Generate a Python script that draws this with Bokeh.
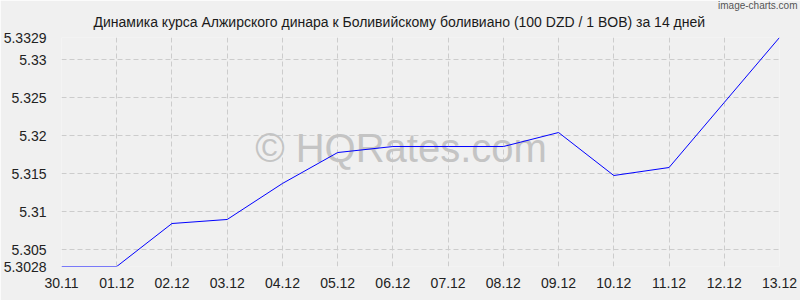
from bokeh.plotting import figure
from bokeh.models import Range1d, FixedTicker, Label, Title
from bokeh.embed import file_html
from bokeh.resources import INLINE

dates = ["30.11", "01.12", "02.12", "03.12", "04.12", "05.12", "06.12",
         "07.12", "08.12", "09.12", "10.12", "11.12", "12.12", "13.12"]
rates = [5.3028, 5.3028, 5.30845, 5.30898, 5.31371, 5.31778, 5.31857,
         5.31857, 5.31857, 5.32041, 5.31476, 5.31581, 5.32436, 5.3329]
y_ticks = [5.3028, 5.305, 5.31, 5.315, 5.32, 5.325, 5.33, 5.3329]
y_tick_labels = ["5.3028", "5.305", "5.31", "5.315", "5.32", "5.325", "5.33", "5.3329"]
title_text = "Динамика курса Алжирского динара к Боливийскому боливиано (100 DZD / 1 BOB) за 14 дней"

FONT = "Liberation Sans"
BG = "#f0f0f0"

xs = list(range(len(dates)))
ymin, ymax = min(rates), max(rates)

p = figure(width=800, height=300, output_backend="svg", toolbar_location=None,
           x_range=Range1d(0, len(dates) - 1), y_range=Range1d(ymin, ymax),
           min_border_left=60, min_border_right=21, min_border_top=37, min_border_bottom=34,
           background_fill_color=BG, border_fill_color=BG, outline_line_color=None)

# watermark first, so the line is drawn over it
step_y = (ymax - ymin) / 229.0
step_x = 1 / 55.31
p.add_layout(Label(x=(400 - 60) * step_x, y=ymin + (266 - 147) * step_y,
                   text="© HQRates.com", text_font=FONT, text_font_size="40px",
                   text_color="#c4c4c4", text_align="center",
                   text_baseline="middle", level="underlay"))

p.line(x=xs, y=rates, line_color="#0000ff", line_width=1)

for ax in (p.xaxis[0], p.yaxis[0]):
    ax.axis_line_color = None
    ax.major_tick_line_color = None
    ax.minor_tick_line_color = None
    ax.major_label_text_font = FONT
    ax.major_label_text_font_size = "14px"
    ax.major_label_text_color = "#222222"

p.xaxis.ticker = FixedTicker(ticks=xs)
p.xaxis.major_label_overrides = {i: d for i, d in enumerate(dates)}
p.xaxis.major_label_standoff = 5
p.yaxis.ticker = FixedTicker(ticks=y_ticks)
p.yaxis.major_label_overrides = {t: l for t, l in zip(y_ticks, y_tick_labels)}
p.yaxis.major_label_standoff = 9

for g in (p.xgrid[0], p.ygrid[0]):
    g.grid_line_color = "#cccccc"
    g.grid_line_dash = "5 3"
    g.grid_line_width = 1

p.add_layout(Title(text=title_text, text_font=FONT, text_font_size="14px",
                   text_font_style="normal", text_color="#1a1a1a",
                   align="left", offset=32, standoff=16), "above")
p.add_layout(Title(text="image-charts.com", text_font=FONT, text_font_size="10px",
                   text_font_style="normal", text_color="#555555",
                   align="right", offset=-18, standoff=-14), "above")

open("out.html", "w").write(file_html(p, INLINE))
